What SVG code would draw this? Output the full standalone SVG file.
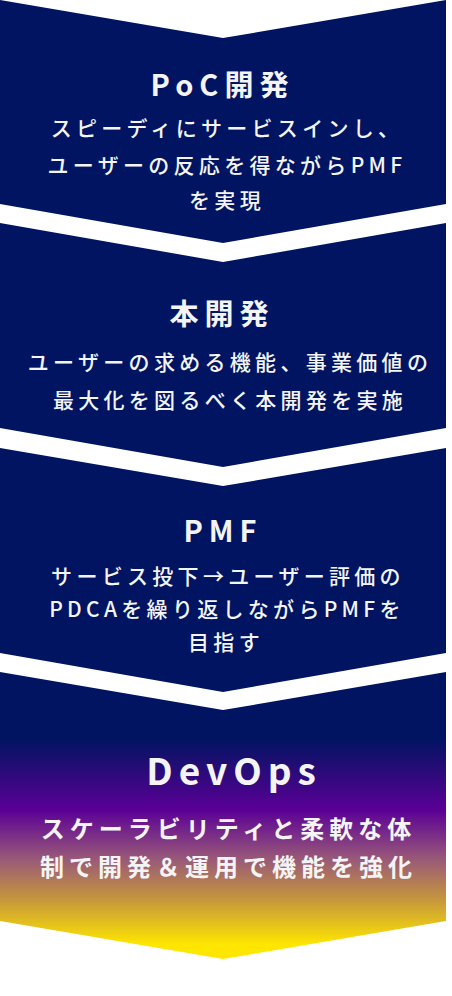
<svg xmlns="http://www.w3.org/2000/svg" width="452" height="996" viewBox="0 0 452 996">
<defs>
<linearGradient id="g4" gradientUnits="userSpaceOnUse" x1="0" y1="672" x2="0" y2="959">
<stop offset="0" stop-color="#001461"/>
<stop offset="0.23" stop-color="#001461"/>
<stop offset="0.48" stop-color="#5a0096"/>
<stop offset="0.65" stop-color="#985878"/>
<stop offset="0.8" stop-color="#c89a3a"/>
<stop offset="0.95" stop-color="#ffe600"/>
<stop offset="1" stop-color="#ffe600"/>
</linearGradient>
<style>
.box{fill:#001461}
.t{font-family:"Noto Sans CJK JP","Noto Sans",sans-serif;fill:#f4f4f4;text-anchor:middle}
.h{font-size:29px;font-weight:700;letter-spacing:6px}
.b{font-size:21px;font-weight:500;letter-spacing:4.3px}
.h4{font-size:37px;font-weight:700;letter-spacing:6px}
.b4{font-size:24px;font-weight:700;letter-spacing:5px}
</style>
</defs>
<g id="connectors"></g>
<g id="poc">
<polygon class="box" points="0,0 223,38 446,0 446,204 223,243 0,204"/>
<text class="t h" x="222.5" y="96">PoC開発</text>
<text class="t b" x="227" y="136">スピーディにサービスインし、</text>
<text class="t b" x="227" y="173">ユーザーの反応を得ながらPMF</text>
<text class="t b" x="227" y="208">を実現</text>
</g>
<g id="hon">
<polygon class="box" points="0,223 223,262 446,223 446,428 223,467 0,428"/>
<text class="t h" x="222" y="325">本開発</text>
<text class="t b" x="230" y="370">ユーザーの求める機能、事業価値の</text>
<text class="t b" x="230" y="408">最大化を図るべく本開発を実施</text>
</g>
<g id="pmf">
<polygon class="box" points="0,448 223,486 446,448 446,653 223,692 0,653"/>
<text class="t h" x="223" y="542">PMF</text>
<text class="t b" x="228" y="584">サービス投下→ユーザー評価の</text>
<text class="t b" x="227" y="617">PDCAを繰り返しながらPMFを</text>
<text class="t b" x="226" y="650">目指す</text>
</g>
<g id="devops">
<polygon fill="url(#g4)" points="0,672 223,710 446,672 446,921 223,959 0,921"/>
<text class="t h4" x="234" y="785">DevOps</text>
<text class="t b4" x="228.5" y="838">スケーラビリティと柔軟な体</text>
<text class="t b4" x="228.5" y="876">制で開発＆運用で機能を強化</text>
</g>
</svg>
